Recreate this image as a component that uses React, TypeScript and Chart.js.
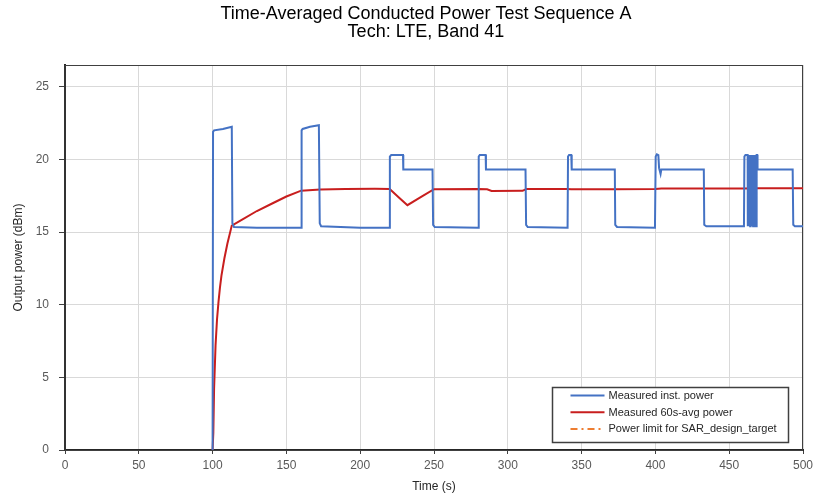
import React, { useEffect, useRef } from "react";
import { Chart, registerables } from "chart.js";

Chart.register(...registerables);

const titleLines = ["Time-Averaged Conducted Power Test Sequence A", "Tech: LTE, Band 41"];
const xTitle = "Time (s)";
const yTitle = "Output power (dBm)";
const seriesLabels = ["Measured inst. power", "Measured 60s-avg power", "Power limit for SAR_design_target"];

// Measured instantaneous power (time in s, power in dBm)
const instTime = [
  100, 100.3, 101, 107, 113, 113.4, 114.5, 130, 160,
  160.3, 161, 166, 172, 172.6, 173.5, 200, 219.8,
  220.1, 221, 229, 229.2, 249, 249.4, 250.5, 280,
  280.3, 281, 285, 285.2, 312, 312.4, 313.5, 340.5,
  340.8, 341.5, 343, 343.3, 372.5, 372.8, 374, 399.7,
  400.2, 401, 402, 402.5, 403.5, 404, 432.8, 433.1, 434.5, 460,
  460.3, 461, 462.5,
];
const instPower = [
  0, 21.9, 22.0, 22.1, 22.25, 15.6, 15.35, 15.3, 15.3,
  22.0, 22.1, 22.25, 22.35, 15.6, 15.4, 15.3, 15.3,
  20.2, 20.3, 20.3, 19.3, 19.3, 15.5, 15.35, 15.3,
  20.2, 20.3, 20.3, 19.3, 19.3, 15.5, 15.35, 15.3,
  20.2, 20.3, 20.3, 19.3, 19.3, 15.5, 15.35, 15.3,
  20.2, 20.35, 20.3, 19.4, 19.0, 19.3, 19.3, 15.5, 15.4, 15.4,
  20.2, 20.3, 20.3,
];
// burst of rapid switching near 463-469 s
const burstTime = [
  462.6, 462.8, 463.0, 463.2, 463.4, 463.6, 463.8, 464.0, 464.2, 464.4,
  464.6, 464.8, 465.0, 465.2, 465.4, 465.6, 465.8, 466.0, 466.2, 466.4,
  466.6, 466.8, 467.0, 467.2, 467.4, 467.6, 467.8, 468.0, 468.2, 468.4,
  468.6, 468.8, 469.0,
];
const burstPower = [
  15.4, 20.3, 15.4, 20.3, 15.4, 20.3, 15.4, 20.3, 15.4, 20.3,
  15.4, 20.3, 15.4, 20.3, 15.4, 20.3, 15.4, 20.3, 15.4, 20.3,
  15.4, 20.3, 15.4, 20.3, 15.4, 20.3, 15.4, 20.3, 15.4, 20.3,
  15.4, 20.3, 20.3,
];
const tailTime = [469.2, 493, 493.4, 494.5, 500];
const tailPower = [19.3, 19.3, 15.5, 15.4, 15.4];

// Measured 60 s average power
const avgTime = [
  100, 100.5, 101, 102, 103, 104, 105, 106, 108, 110, 113,
  120, 130, 140, 150, 160, 173, 190, 210, 220,
  226, 232, 241, 250, 280, 286, 289, 310, 312.5,
  340, 343, 372, 400, 404, 460, 470, 500,
];
const avgPower = [
  0, 1.2, 4.2, 7.2, 9.0, 10.2, 11.2, 12.0, 13.2, 14.2, 15.45,
  15.85, 16.45, 16.95, 17.45, 17.85, 17.93, 17.96, 17.98, 17.97,
  17.4, 16.85, 17.4, 17.95, 17.97, 17.95, 17.83, 17.84, 17.96,
  17.97, 17.95, 17.95, 17.97, 18.0, 18.0, 18.02, 18.02,
];
// power limit series (not within visible range of the plot)
const limitTime: number[] = [];
const limitPower: number[] = [];

const colors = ["#4472C4", "#C81E1E", "#ED7D31"];

const pairs = (xs: number[], ys: number[]) => xs.map((x, i) => ({ x, y: ys[i] }));

export default function App() {
  const ref = useRef<HTMLCanvasElement | null>(null);
  useEffect(() => {
    if (!ref.current) return;
    const font = "'Liberation Sans', Arial, sans-serif";
    const frame = {
      id: "frame",
      beforeDatasetsDraw(chart: any) {
        const { ctx, chartArea: a } = chart;
        ctx.save();
        ctx.strokeStyle = "#404040";
        ctx.lineWidth = 1;
        ctx.strokeRect(a.left, a.top + 0.5, a.right - a.left - 0.5, a.bottom - a.top);
        ctx.restore();
      },
      afterDraw(chart: any) {
        const { ctx, chartArea: a } = chart;
        ctx.save();
        // title
        ctx.fillStyle = "#000";
        ctx.font = `18px ${font}`;
        ctx.textAlign = "center";
        ctx.textBaseline = "middle";
        ctx.fillText(titleLines[0], 426, 14);
        ctx.fillText(titleLines[1], 426, 32);
        // legend
        const bx = a.right - 250.5, by = a.bottom - 62.5, bw = 236, bh = 55;
        ctx.fillStyle = "#fff";
        ctx.fillRect(bx, by, bw, bh);
        ctx.strokeStyle = "#404040";
        ctx.lineWidth = 1.5;
        ctx.strokeRect(bx, by, bw, bh);
        const ds = chart.data.datasets;
        ctx.font = `11px ${font}`;
        ctx.textAlign = "left";
        for (let i = 0; i < ds.length; i++) {
          const y = by + 8 + i * 16.7;
          ctx.strokeStyle = ds[i].borderColor;
          ctx.lineWidth = 2;
          ctx.setLineDash(ds[i].borderDash || []);
          ctx.beginPath();
          ctx.moveTo(bx + 18, y);
          ctx.lineTo(bx + 52, y);
          ctx.stroke();
          ctx.setLineDash([]);
          ctx.fillStyle = "#262626";
          ctx.fillText(ds[i].label, bx + 56, y + 0.5);
        }
        ctx.restore();
      },
    };
    const chart = new Chart(ref.current, {
      type: "line",
      data: {
        datasets: [
          {
            label: seriesLabels[0],
            data: [...pairs(instTime, instPower), ...pairs(burstTime, burstPower), ...pairs(tailTime, tailPower)],
            borderColor: colors[0],
            backgroundColor: colors[0],
            borderWidth: 2,
            pointRadius: 0,
            tension: 0,
          },
          {
            label: seriesLabels[1],
            data: pairs(avgTime, avgPower),
            borderColor: colors[1],
            backgroundColor: colors[1],
            borderWidth: 2,
            pointRadius: 0,
            tension: 0,
          },
          {
            label: seriesLabels[2],
            data: pairs(limitTime, limitPower),
            borderColor: colors[2],
            backgroundColor: colors[2],
            borderWidth: 2,
            borderDash: [7, 4, 2, 4],
            pointRadius: 0,
          },
        ],
      },
      options: {
        animation: false,
        responsive: false,
        maintainAspectRatio: false,
        parsing: true,
        layout: { padding: { top: 65, right: 11, left: 0, bottom: 0 } },
        plugins: { legend: { display: false }, title: { display: false }, tooltip: { enabled: false } },
        scales: {
          x: {
            type: "linear",
            min: 0,
            max: 500,
            afterFit: (s: any) => { s.height = 45; s.paddingRight = 0; s.paddingLeft = 0; },
            ticks: { stepSize: 50, color: "#595959", font: { size: 12, family: font }, padding: 4, maxRotation: 0 },
            grid: { color: "#d9d9d9", tickColor: "#404040", tickLength: 4, lineWidth: 1 },
            border: { color: "#262626", width: 2 },
            title: { display: true, text: xTitle, color: "#262626", font: { size: 12, family: font }, padding: { top: 0, bottom: 1 } },
          },
          y: {
            min: 0,
            max: 26.5,
            afterFit: (s: any) => { s.width = 65; },
            ticks: { stepSize: 5, includeBounds: false, color: "#595959", font: { size: 12, family: font }, padding: 10 },
            grid: { color: "#d9d9d9", tickColor: "#404040", tickLength: 6, lineWidth: 1 },
            border: { color: "#262626", width: 2 },
            title: { display: true, text: yTitle, color: "#262626", font: { size: 12, family: font }, padding: { top: 11, bottom: 0 } },
          },
        },
      },
      plugins: [frame],
    } as any);
    return () => chart.destroy();
  }, []);
  return (
    <div style={{ position: "absolute", left: 0, top: 0, width: 814, height: 495 }}>
      <canvas ref={ref} width={814} height={495} style={{ width: 814, height: 495 }} />
    </div>
  );
}
